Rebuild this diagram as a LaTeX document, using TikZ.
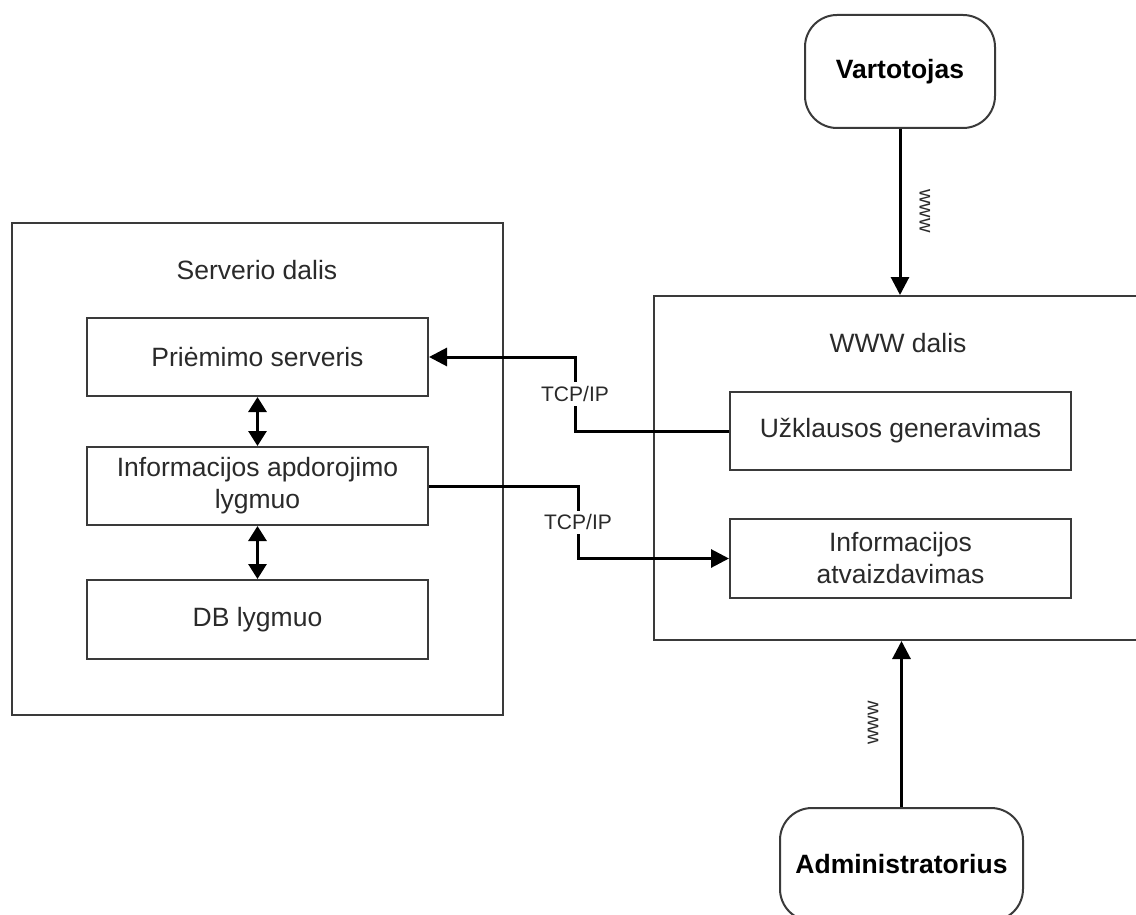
\documentclass[tikz,border=0pt]{standalone}
\usepackage{fontspec}
\setmainfont{Liberation Sans}
\usetikzlibrary{arrows.meta}
\definecolor{edge}{HTML}{3A3A3A}
\definecolor{ink}{HTML}{2A2A2A}
\tikzset{
  frame/.style={draw=edge, line width=2pt, fill=none, inner sep=0pt},
  blockbox/.style={frame, text=ink, align=center,
    font=\fontsize{26.5}{32}\selectfont},
  actor/.style={draw=edge, line width=2pt, rounded corners=32pt,
    inner sep=0pt, text=black, font=\fontsize{26.5}{32}\selectfont\bfseries},
  caption/.style={text=ink, font=\fontsize{26.5}{32}\selectfont, inner sep=0pt},
  conn/.style={draw=black, line width=3pt},
  tip/.style={-{Triangle[length=18pt,width=18pt]}},
  both/.style={{Triangle[length=15pt,width=18pt]}-{Triangle[length=15pt,width=18pt]}},
  proto/.style={fill=white, text=ink, inner sep=4pt, font=\fontsize{21}{24}\selectfont},
  wlabel/.style={text=ink, inner sep=0pt, font=\fontsize{20}{22}\selectfont},
}
\begin{document}
\begin{tikzpicture}[x=1pt, y=-1pt]
\useasboundingbox[fill=white] (0,0) rectangle (1136,915);
\clip (0,0) rectangle (1136,915);

% server side
\node[frame, minimum width=491pt, minimum height=492pt] (srv) at (257.5,469) {};
\node[caption] (srvlbl) at (257,270) {Serverio dalis};
\node[blockbox, minimum width=341pt, minimum height=78pt] (priem) at (257.5,357) {Priėmimo serveris};
\node[blockbox, minimum width=341pt, minimum height=78pt] (infoap) at (257.5,486) {Informacijos apdorojimo\\lygmuo};
\node[blockbox, minimum width=341pt, minimum height=79pt] (db) at (257.5,619.5) {DB lygmuo};

% web side
\node[frame, minimum width=492pt, minimum height=344pt] (web) at (900,468) {};
\node[caption] (weblbl) at (898,343) {WWW dalis};
\node[blockbox, minimum width=341pt, minimum height=78pt] (uzkl) at (900.5,431) {Užklausos generavimas};
\node[blockbox, minimum width=341pt, minimum height=79pt] (infoat) at (900.5,558.5) {Informacijos\\atvaizdavimas};

% actors
\node[actor, minimum width=190pt, minimum height=113pt] (vart) at (900,71.5) {Vartotojas};
\node[actor, minimum width=243pt, minimum height=113pt] (admin) at (901.5,864.5) {Administratorius};

% links between server layers
\draw[conn, both] (priem.south) -- (infoap.north);
\draw[conn, both] (infoap.south) -- (db.north);

% TCP/IP links
\coordinate (k1) at (575,0);
\coordinate (k2) at (578,0);
\draw[conn, tip] (uzkl.west) -- (uzkl.west -| k1)
  -- node[proto] {TCP/IP} (priem.east -| k1) -- (priem.east);
\draw[conn, tip] (infoap.east) -- (infoap.east -| k2)
  -- node[proto] {TCP/IP} (infoat.west -| k2) -- (infoat.west);

% www links
\draw[conn, tip] (vart.south) -- (web.north);
\draw[conn, tip] (admin.north) -- (admin.north |- web.south);
\node[wlabel, rotate=-90] (w1) at (925,211) {www};
\node[wlabel, rotate=90] (w2) at (873,723) {www};
\end{tikzpicture}
\end{document}
